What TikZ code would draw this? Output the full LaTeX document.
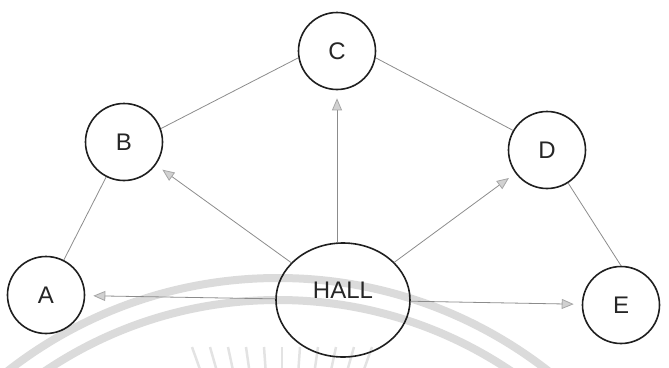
\documentclass[tikz,border=0pt]{standalone}
\usepackage{fontspec}
\setmainfont{Liberation Sans}
\usetikzlibrary{arrows.meta,shapes.geometric}
\begin{document}
\begin{tikzpicture}[x=1pt,y=-1pt,
  place/.style={circle,draw=black!88,line width=1.6pt,minimum size=77pt,inner sep=0pt,font=\fontsize{24}{24}\selectfont,text=black!85},
  hallnode/.style={ellipse,draw=black!88,line width=1.6pt,minimum width=134pt,minimum height=114pt,inner sep=0pt,text depth=20pt,font=\fontsize{24}{24}\selectfont,text=black!85},
  link/.style={draw=black!45,line width=0.8pt},
  flow/.style={draw=black!45,line width=0.8pt,shorten >=8pt,-{Triangle[length=12pt,width=10pt,fill=black!18,color=black!35]}},
  wm/.style={draw=black!14,line width=8pt},
  wray/.style={draw=black!11,line width=2.5pt}]
\useasboundingbox (0,0) rectangle (669,367);
\begin{scope}
\clip (0,0) rectangle (669,367);
\draw[wm] (278,717) circle[radius=439pt];
\draw[wm] (278,717) circle[radius=417pt];
\foreach \k in {-5,...,5}{
  \pgfmathsetmacro{\xt}{282+18*\k}
  \pgfmathsetmacro{\xb}{282+18*\k-18*\k*24/252}
  \draw[wray] (\xt,347) -- (\xb,371);
}
\end{scope}
\node[place] (c) at (337,51) {C};
\node[place] (b) at (124,142) {B};
\node[place] (d) at (547,150) {D};
\node[place] (a) at (46,295) {A};
\node[place] (e) at (621,305) {E};
\node[hallnode] (hall) at (343,300) {HALL};
\draw[link] (b.20) -- (c.190);
\draw[link] (c.-10) -- (d.150);
\draw[link] (b) -- (a);
\draw[link] (d) -- (e.north);
\draw[flow] (hall) -- (b);
\draw[flow] (hall.north -| c) -- (c);
\draw[flow] (hall) -- (d);
\draw[flow] (hall) -- (a);
\draw[flow] (hall) -- (e);
\end{tikzpicture}
\end{document}
